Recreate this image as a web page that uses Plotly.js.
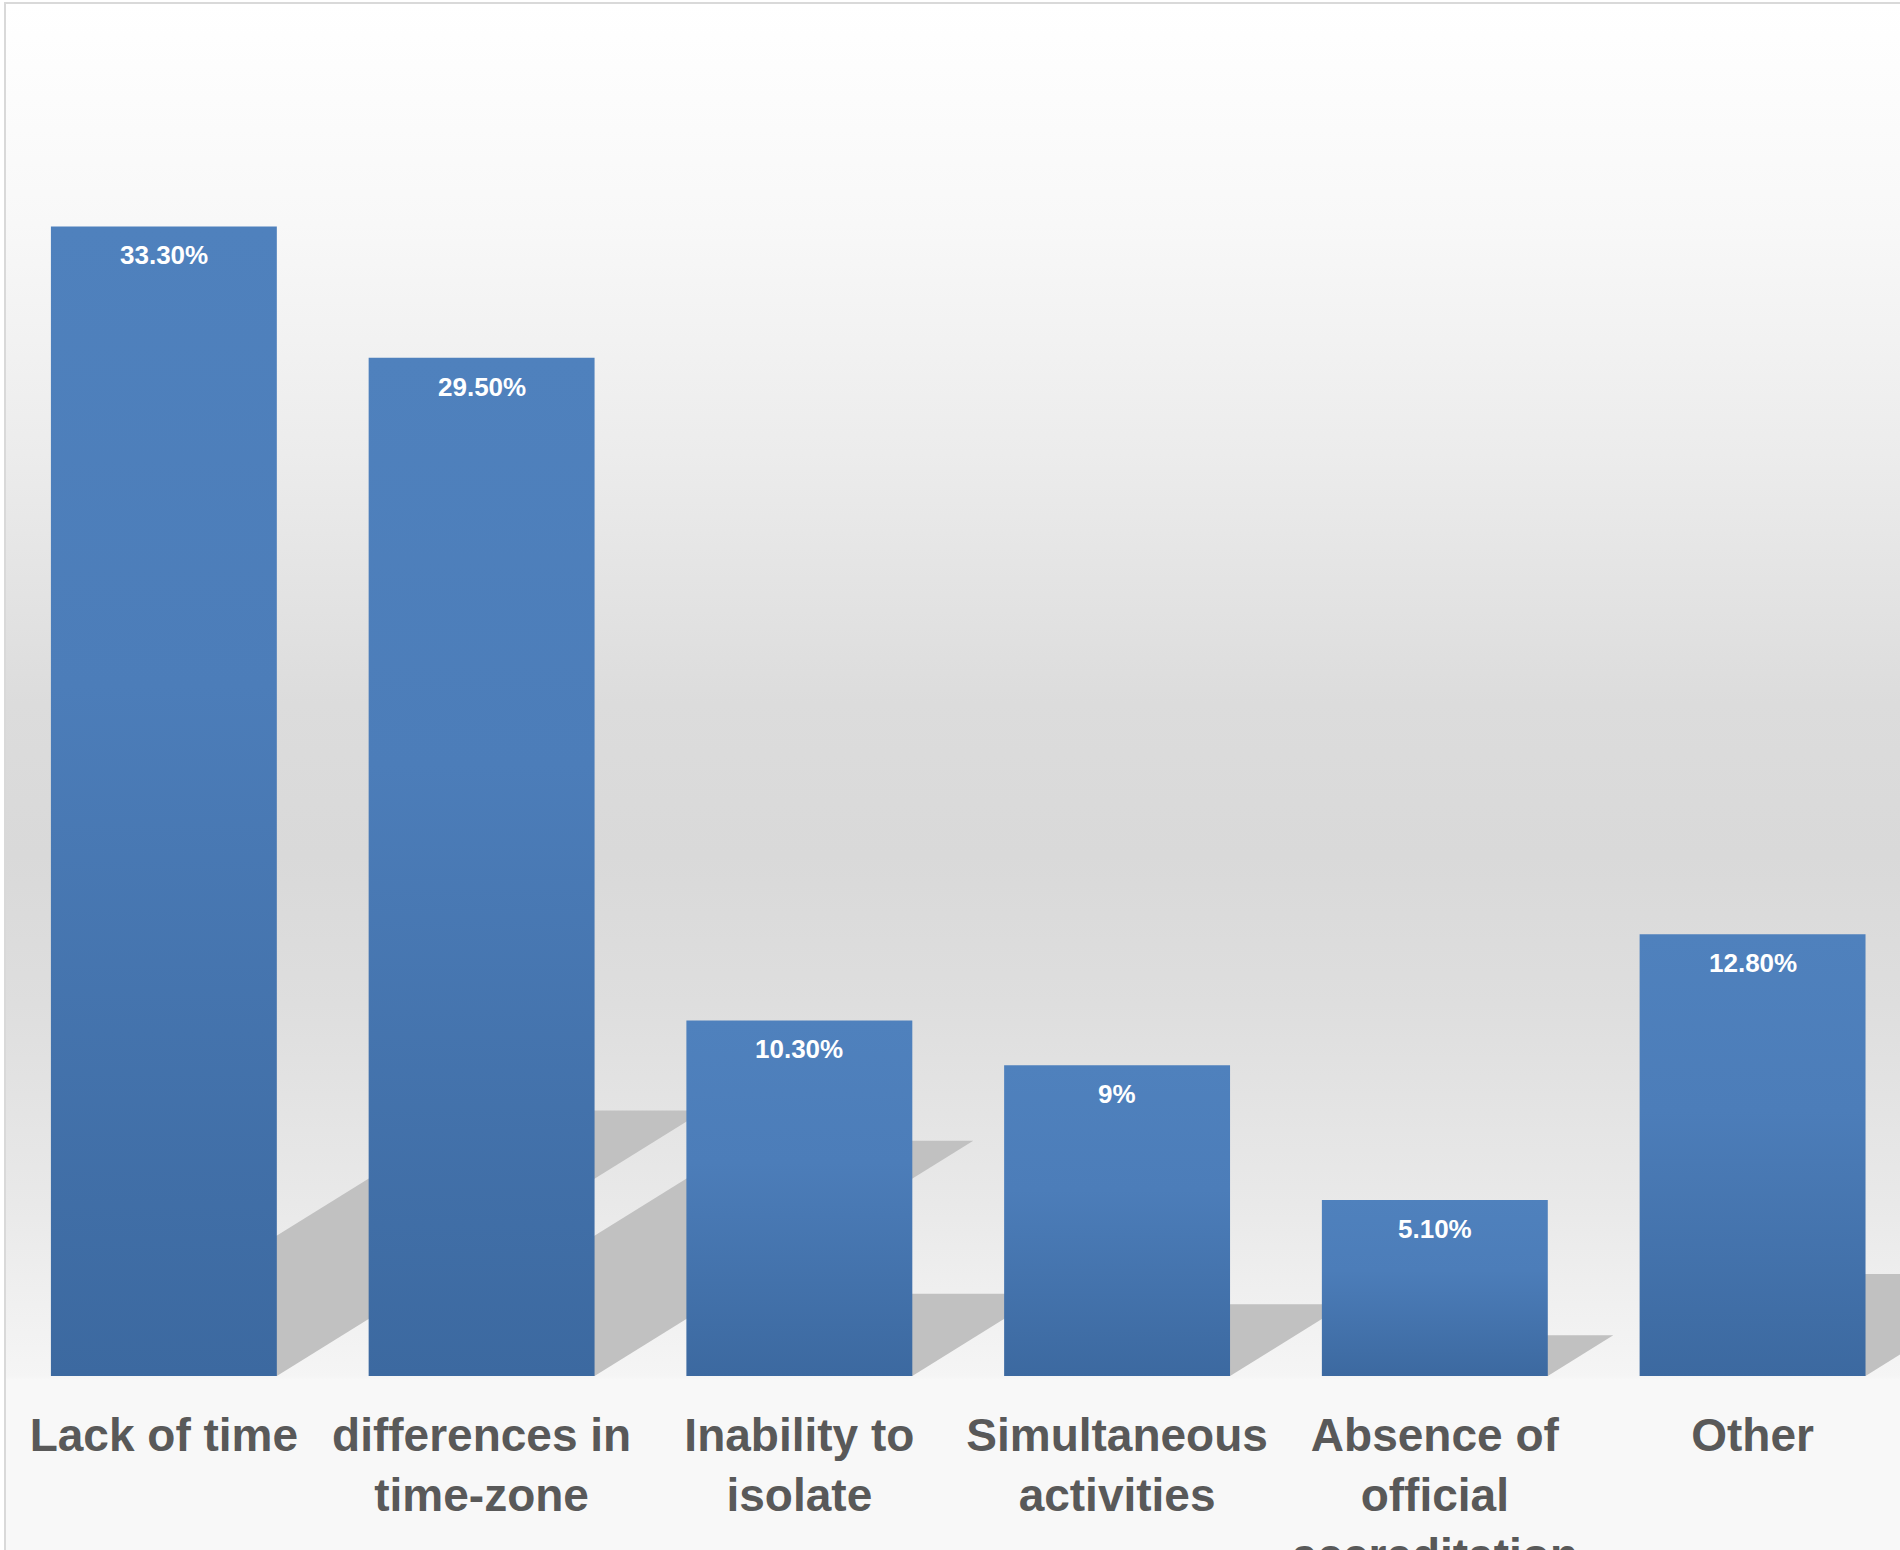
<!DOCTYPE html>
<html>
<head>
<meta charset="utf-8">
<script src="https://cdn.plot.ly/plotly-3.0.1.min.js"></script>
<style>
  html, body { margin: 0; padding: 0; width: 1900px; height: 1550px; overflow: hidden; background: #ffffff; }
  #frame {
    position: absolute; left: 4px; top: 2px; width: 1920px; height: 1570px;
    border-left: 2px solid #d9d9d9; border-top: 2px solid #d9d9d9;
    background: linear-gradient(to bottom,
      #ffffff 0px, #f8f8f8 220px, #ececec 450px, #dcdcdc 700px, #d9d9d9 850px,
      #dedede 1000px, #e9e9e9 1200px, #f5f5f5 1372px, #f8f8f8 1376px, #f8f8f8 1570px);
  }
  #chart { position: absolute; left: 0; top: 0; width: 1900px; height: 1550px; }
</style>
</head>
<body>
<div id="frame"></div>
<div id="chart"></div>
<script>
// ---- data ----
const categories = [
  "Lack of time",
  "differences in<br>time-zone",
  "Inability to<br>isolate",
  "Simultaneous<br>activities",
  "Absence of<br>official<br>accreditation",
  "Other"
];
const values = [33.3, 29.5, 10.3, 9.0, 5.1, 12.8];
const valueLabels = ["33.30%", "29.50%", "10.30%", "9%", "5.10%", "12.80%"];

// ---- layout helpers ----
const positions = categories.map((c, i) => i);
const bargap = 0.289;
const halfW = (1 - bargap) / 2;

// perspective "floor" shadows cast by each bar
const shadows = values.map((h, i) => {
  const x0 = positions[i] - halfW, x1 = positions[i] + halfW;
  const dx = h * 0.0404, dy = h * 0.231;
  return {
    type: 'path', xref: 'x', yref: 'y', layer: 'below',
    path: `M ${x0},0 L ${x1},0 L ${x1 + dx},${dy} L ${x0 + dx},${dy} Z`,
    fillcolor: '#c1c1c1', line: { width: 0 }
  };
});

const annotations = values.map((v, i) => ({
  x: positions[i], y: v, xref: 'x', yref: 'y',
  text: valueLabels[i], showarrow: false,
  yanchor: 'middle', yshift: -29,
  font: { family: 'Liberation Sans, Arial, sans-serif', size: 26, color: '#ffffff', weight: 'bold' }
}));

const trace = {
  type: 'bar',
  x: positions,
  y: values,
  marker: { color: '#4a7ab5', line: { width: 0 } },
  hoverinfo: 'skip',
  textposition: 'none'
};

const layout = {
  width: 1900, height: 1550,
  margin: { l: 5, r: 0, t: 0, b: 173.5, pad: 0 },
  paper_bgcolor: 'rgba(0,0,0,0)',
  plot_bgcolor: 'rgba(0,0,0,0)',
  bargap: bargap,
  showlegend: false,
  xaxis: {
    range: [-0.5, 5.464],
    tickmode: 'array', tickvals: positions, ticktext: categories,
    showgrid: false, zeroline: false, showline: false, ticks: '',
    ticklabelstandoff: 28,
    tickfont: { family: 'Liberation Sans, Arial, sans-serif', size: 46, color: '#595959', weight: 'bold' }
  },
  yaxis: {
    range: [0, 39.86],
    visible: false, showgrid: false, zeroline: false
  },
  shapes: shadows,
  annotations: annotations
};

Plotly.newPlot('chart', [trace], layout, { displayModeBar: false, staticPlot: true }).then(gd => {
  const svg = gd.querySelector('svg.main-svg');
  const NS = 'http://www.w3.org/2000/svg';
  let defs = svg.querySelector('defs');
  if (!defs) { defs = document.createElementNS(NS, 'defs'); svg.insertBefore(defs, svg.firstChild); }
  const grad = document.createElementNS(NS, 'linearGradient');
  grad.setAttribute('id', 'barGrad');
  grad.setAttribute('x1', '0'); grad.setAttribute('y1', '0');
  grad.setAttribute('x2', '0'); grad.setAttribute('y2', '1');
  [['0', '#4f81bd'], ['0.4', '#4c7db9'], ['1', '#3c69a0']].forEach(([o, c]) => {
    const s = document.createElementNS(NS, 'stop');
    s.setAttribute('offset', o); s.setAttribute('stop-color', c);
    grad.appendChild(s);
  });
  defs.appendChild(grad);
  const filt = document.createElementNS(NS, 'filter');
  filt.setAttribute('id', 'shadowBlur');
  filt.setAttribute('x', '-10%'); filt.setAttribute('y', '-10%');
  filt.setAttribute('width', '120%'); filt.setAttribute('height', '120%');
  const blur = document.createElementNS(NS, 'feGaussianBlur');
  blur.setAttribute('stdDeviation', '3');
  filt.appendChild(blur);
  defs.appendChild(filt);
  gd.querySelectorAll('.barlayer .point path').forEach(p => { p.style.fill = 'url(#barGrad)'; });
  gd.querySelectorAll('.layer-below .shapelayer path').forEach(p => { p.setAttribute('filter', 'url(#shadowBlur)'); });
});
</script>
</body>
</html>
